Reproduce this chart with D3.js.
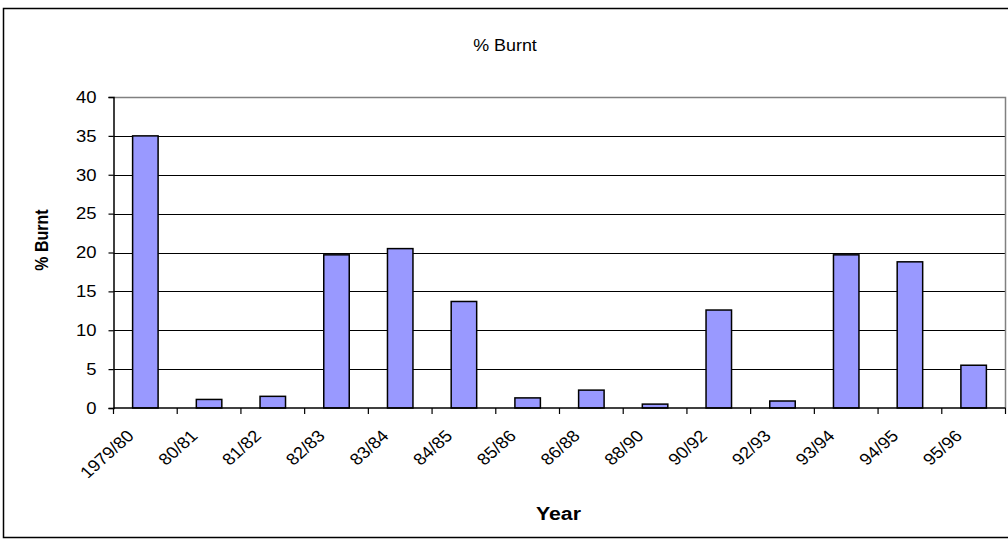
<!DOCTYPE html>
<html>
<head>
<meta charset="utf-8">
<script src="https://cdn.jsdelivr.net/npm/d3@7"></script>
<style>
  html, body { margin: 0; padding: 0; background: #fff; }
  svg { display: block; }
  text { font-family: "Liberation Sans", Arial, sans-serif; fill: #000; }
</style>
</head>
<body>
<svg id="chart" width="1008" height="543"></svg>
<script>
const categories = ["1979/80","80/81","81/82","82/83","83/84","84/85","85/86","86/88","88/90","90/92","92/93","93/94","94/95","95/96"];
const values = [35, 1.1, 1.5, 19.7, 20.5, 13.7, 1.3, 2.3, 0.5, 12.6, 0.9, 19.7, 18.8, 5.5];
const yTicks = [0, 5, 10, 15, 20, 25, 30, 35, 40];
const titleText = "% Burnt";
const yTitle = "% Burnt";
const xTitle = "Year";

const svg = d3.select("#chart");
const plot = { left: 113.5, right: 1005.5, top: 97, bottom: 408 };
const SX = 1.12; // horizontal text stretch

// outer border
svg.append("rect").attr("x", 3.5).attr("y", 8.5).attr("width", 1010).attr("height", 529)
  .attr("fill", "#fff").attr("stroke", "#000").attr("stroke-width", 1.5);

const x = d3.scaleBand().domain(categories).range([plot.left, plot.right])
  .paddingInner(0.6).paddingOuter(0.3);
const y = d3.scaleLinear().domain([0, 40]).range([plot.bottom, plot.top]);
const step = x.step();

// gridlines
svg.append("g").selectAll("line").data(yTicks.filter(d => d > 0 && d < 40)).join("line")
  .attr("x1", plot.left).attr("x2", plot.right)
  .attr("y1", d => Math.round(y(d)) + 0.5).attr("y2", d => Math.round(y(d)) + 0.5)
  .attr("stroke", "#000").attr("stroke-width", 1.2);

// plot border top/right (grey)
svg.append("path")
  .attr("d", `M${plot.left},${plot.top + 0.5}H${plot.right}V${plot.bottom}`)
  .attr("fill", "none").attr("stroke", "#808080").attr("stroke-width", 1.5);

// bars
svg.append("g").selectAll("rect").data(values).join("rect")
  .attr("x", (d, i) => x(categories[i]))
  .attr("width", x.bandwidth())
  .attr("y", d => y(d))
  .attr("height", d => y(0) - y(d))
  .attr("fill", "#9999FF").attr("stroke", "#000").attr("stroke-width", 1.5);

// y axis
const yAxis = d3.axisLeft(y).tickValues(yTicks).tickSize(5).tickPadding(12);
const gy = svg.append("g").attr("transform", `translate(${plot.left},0)`).call(yAxis);
gy.select(".domain").attr("stroke", "#000").attr("stroke-width", 1.5);
gy.selectAll(".tick line").attr("stroke", "#000").attr("stroke-width", 1.2);
gy.selectAll(".tick text").attr("font-size", 16.5).attr("font-family", "Liberation Sans, Arial, sans-serif")
  .each(function() {
    const t = d3.select(this);
    const xx = +t.attr("x");
    t.attr("x", null).attr("transform", `translate(${xx},0) scale(${SX},1)`);
  });

// x axis baseline
svg.append("line").attr("x1", plot.left).attr("x2", plot.right)
  .attr("y1", plot.bottom).attr("y2", plot.bottom).attr("stroke", "#000").attr("stroke-width", 1.5);

// x ticks at category boundaries
const bounds = d3.range(categories.length + 1).map(i => plot.left + i * step);
svg.append("g").selectAll("line").data(bounds).join("line")
  .attr("x1", d => d).attr("x2", d => d)
  .attr("y1", plot.bottom).attr("y2", plot.bottom + 6)
  .attr("stroke", "#000").attr("stroke-width", 1.2);

// x labels rotated
svg.append("g").selectAll("text").data(categories).join("text")
  .attr("transform", d => `translate(${x(d) + x.bandwidth() / 2 - 15},433) scale(${SX},1) rotate(-45)`)
  .attr("text-anchor", "end").attr("dy", "0.35em")
  .attr("font-size", 16.5)
  .text(d => d);

// title
svg.append("text").attr("transform", `translate(505,51) scale(${SX},1)`)
  .attr("text-anchor", "middle").attr("font-size", 16).text(titleText);

// axis titles
svg.append("text").attr("transform", `translate(48,240) scale(${SX},1) rotate(-90)`)
  .attr("text-anchor", "middle").attr("font-size", 16).attr("font-weight", "bold").text(yTitle);
svg.append("text").attr("transform", `translate(558.5,520) scale(${SX},1)`)
  .attr("text-anchor", "middle").attr("font-size", 19).attr("font-weight", "bold").text(xTitle);
</script>
</body>
</html>
